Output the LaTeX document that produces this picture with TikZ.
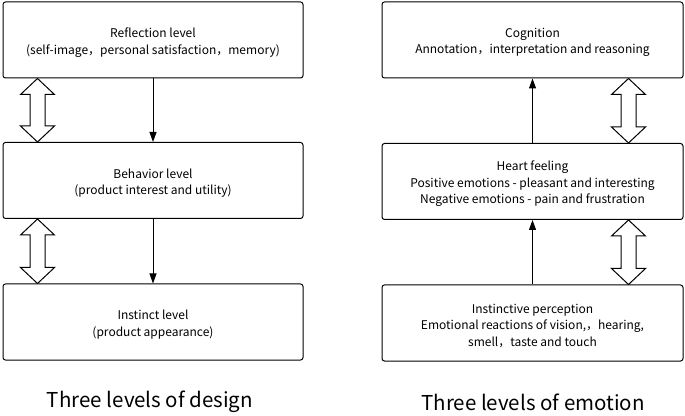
\documentclass[tikz,border=0pt]{standalone}
\usepackage{fontspec}
\setmainfont{Noto Sans CJK SC}
\usetikzlibrary{arrows.meta,calc}
\tikzset{
  x=1pt,y=1pt,
  levelbox/.style={draw,line width=1pt,rounded corners=2.5pt,minimum width=300pt,minimum height=76pt,inner sep=0pt},
  boxtext/.style={align=center,font=\fontsize{12}{16.5}\selectfont,inner sep=0pt},
  flowarrow/.style={line width=1pt,-{Triangle[length=10pt,width=7pt]}},
  hollow/.style={draw,line width=1pt,fill=white,line join=miter},
  caption/.style={font=\fontsize{20.5}{24}\selectfont}
}
\newcommand{\dblarrow}[2]{% #1 top tip, #2 bottom tip
  \draw[hollow] (#1) -- ++(17,-16) -- ++(-9.5,0) -- ($(#2)+(7.5,16)$) -- ++(9.5,0) -- (#2) -- ++(-17,16) -- ++(9.5,0) -- ($(#1)+(-7.5,-16)$) -- ++(-9.5,0) -- cycle;}
\begin{document}
\begin{tikzpicture}
\useasboundingbox (0,0) rectangle (685,415);
% left column
\node[levelbox] (l1) at (153,375) {};
\node[levelbox] (l2) at (153,234.5) {};
\node[levelbox] (l3) at (153,93) {};
\node[boxtext] (l1t) at ($(l1.center)+(0,-2.5)$) {Reflection level\\(self-image，personal satisfaction，memory)};
\node[boxtext] (l2t) at ($(l2.center)+(0,-2.5)$) {Behavior level\\(product interest and utility)};
\node[boxtext] (l3t) at ($(l3.center)+(0,-2.5)$) {Instinct level\\(product appearance)};
\draw[flowarrow] (l1.south) -- (l2.north);
\draw[flowarrow] (l2.south) -- (l3.north);
\coordinate (la1) at ($(l1.south west)+(35,0)$);
\coordinate (la2) at ($(l2.north west)+(35,0)$);
\coordinate (la3) at ($(l2.south west)+(35,0)$);
\coordinate (la4) at ($(l3.north west)+(35,0)$);
\dblarrow{la1}{la2}
\dblarrow{la3}{la4}
\node[caption] (lc) at (150,13) {Three levels of design};
% right column
\node[levelbox,minimum width=301pt] (r1) at (532.5,375) {};
\node[levelbox,minimum width=301pt] (r2) at (532.5,233.5) {};
\node[levelbox,minimum width=301pt] (r3) at (532.5,92) {};
\node[boxtext] (r1t) at ($(r1.center)+(0,-2.5)$) {Cognition\\Annotation，interpretation and reasoning};
\node[boxtext] (r2t) at ($(r2.center)+(0,-2.5)$) {Heart feeling\\Positive emotions - pleasant and interesting\\Negative emotions - pain and frustration};
\node[boxtext] (r3t) at ($(r3.center)+(0,-2.5)$) {Instinctive perception\\Emotional reactions of vision,，hearing,\\smell，taste and touch};
\draw[flowarrow] (r3.north) -- (r2.south);
\draw[flowarrow] (r2.north) -- (r1.south);
\coordinate (ra1) at ($(r1.south east)+(-55,0)$);
\coordinate (ra2) at ($(r2.north east)+(-55,0)$);
\coordinate (ra3) at ($(r2.south east)+(-55,0)$);
\coordinate (ra4) at ($(r3.north east)+(-55,0)$);
\dblarrow{ra1}{ra2}
\dblarrow{ra3}{ra4}
\node[caption] (rc) at (533,13) {Three levels of emotion};
\end{tikzpicture}
\end{document}
